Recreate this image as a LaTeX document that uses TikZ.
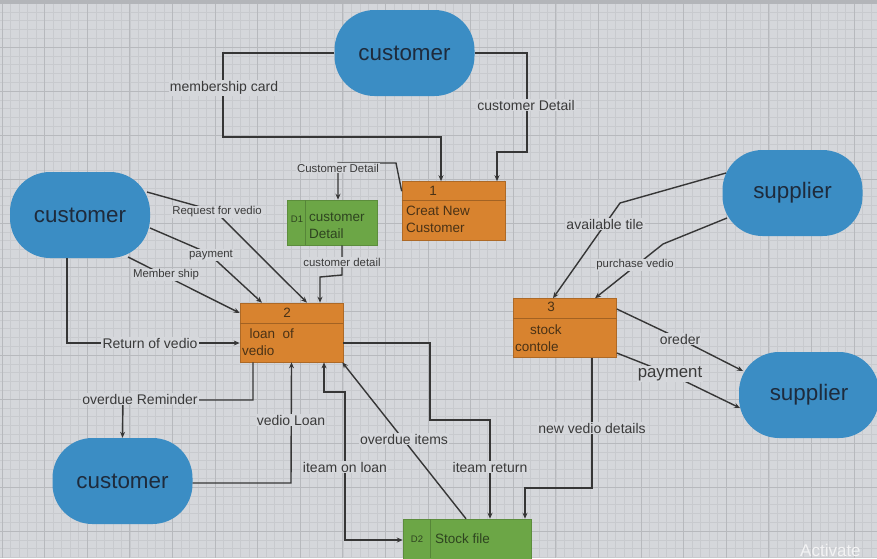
\documentclass[tikz,border=0pt]{standalone}
\usepackage{fontspec}
\setmainfont{Liberation Sans}
\usetikzlibrary{arrows.meta}
\definecolor{bg}{HTML}{D5D7DB}
\definecolor{gminor}{HTML}{C8CACE}
\definecolor{gmajor}{HTML}{B7B9BD}
\definecolor{topbar}{HTML}{B3B5B9}
\definecolor{entblue}{HTML}{3B8DC4}
\definecolor{procor}{HTML}{D8832F}
\definecolor{storegr}{HTML}{6CA646}
\definecolor{ln}{HTML}{363636}
\definecolor{enttext}{HTML}{1E2B3C}
\definecolor{labtext}{HTML}{3A3A3A}
\definecolor{boxtext}{HTML}{4A3216}
\definecolor{grtext}{HTML}{2E4420}
\begin{document}
\begin{tikzpicture}[x=1pt,y=-1pt,
  ent/.style={fill=entblue, rounded corners=40pt, minimum width=140pt, minimum height=86pt, inner sep=0pt, text=enttext, font=\fontsize{22.4}{26}\selectfont},
  proc/.style={fill=procor, draw=procor!80!black, line width=0.6pt, minimum width=103pt, minimum height=59pt, inner sep=0pt},
  store/.style={fill=storegr, draw=storegr!85!black, line width=0.5pt, inner sep=0pt},
  ptext/.style={text=boxtext, inner sep=0pt, font=\fontsize{13.5}{17}\selectfont, align=left},
  gtext/.style={text=grtext, inner sep=0pt, font=\fontsize{13.5}{17}\selectfont, align=left},
  lbl/.style={fill=bg, inner sep=1.2pt, text=labtext, font=\fontsize{14}{16}\selectfont},
  slbl/.style={fill=bg, inner sep=1pt, text=labtext, font=\fontsize{11.4}{13}\selectfont},
  flow/.style={draw=ln, line width=1.4pt},
  arr/.style={flow, -{Stealth[length=6pt,width=5pt]}},
  darr/.style={flow, {Stealth[length=6pt,width=5pt]}-{Stealth[length=6pt,width=5pt]}}
]
\useasboundingbox (0,0) rectangle (877,558);
% background grid
\fill[bg] (0,0) rectangle (877,558);
\foreach \i in {0,...,103} \draw[gminor, line width=0.4pt] ({2+\i*8.52},0) -- ++(0,558);
\foreach \j in {0,...,64} \draw[gminor, line width=0.4pt] (0,{3+\j*8.8}) -- ++(877,0);
\foreach \i in {0,...,20} \draw[gmajor, line width=0.8pt] ({2+\i*42.6},0) -- ++(0,558);
\foreach \j in {0,...,12} \draw[gmajor, line width=0.8pt] (0,{3+\j*44}) -- ++(877,0);
\fill[topbar] (0,0) rectangle (877,4);

% external entities
\node[ent] (cTop) at (404.5,53) {customer};
\node[ent] (cLeft) at (80,215) {customer};
\node[ent] (cBot) at (122.5,481) {customer};
\node[ent] (sTop) at (792.5,193) {supplier};
\node[ent] (sBot) at (809,395) {supplier};

% processes
\node[proc] (P1) at (453.5,211) {};
\draw[procor!75!black, line width=0.5pt] (P1.west |- 0,200) -- (P1.east |- 0,200);
\node[ptext] (P1n) at (433,191) {1};
\node[ptext, anchor=west] (P1t) at (406,219.5) {Creat New\\Customer};

\node[proc] (P2) at (291.5,332.5) {};
\draw[procor!75!black, line width=0.5pt] (P2.west |- 0,323) -- (P2.east |- 0,323);
\node[ptext] (P2n) at (287,313) {2};
\node[ptext, anchor=west] (P2t) at (242,342.5) {\ \ loan\ \ of\\vedio};

\node[proc] (P3) at (565,328) {};
\draw[procor!75!black, line width=0.5pt] (P3.west |- 0,318) -- (P3.east |- 0,318);
\node[ptext] (P3n) at (551,307) {3};
\node[ptext, anchor=west] (P3t) at (515,338) {\ \ \ \ stock\\contole};

% data stores
\node[store, minimum width=90pt, minimum height=45pt] (D1) at (332,222.5) {};
\draw[storegr!80!black, line width=0.5pt] (305,200) -- (305,245);
\node[gtext, font=\fontsize{9.5}{11}\selectfont] (D1n) at (297,219) {D1};
\node[gtext, anchor=west] (D1t) at (309,225.5) {customer\\Detail};

\node[store, minimum width=128pt, minimum height=50pt] (D2) at (467,544) {};
\draw[storegr!80!black, line width=0.5pt] (430,519) -- (430,558);
\node[gtext, font=\fontsize{9.5}{11}\selectfont] (D2n) at (417,539) {D2};
\node[gtext, anchor=west] (D2t) at (435,539) {Stock file};

% flows
\draw[arr] (cTop.west) -- (223,53) -- (223,137) -- (441,137) -- ([xshift=-12.5pt]P1.north);
\draw[arr] (cTop.east) -- (527,53) -- (527,152) -- (497,152) -- ([xshift=43.5pt]P1.north);
\draw[arr] ([yshift=-10pt]P1.north west) -- (396,163) -- (338,163) -- ([xshift=6pt]D1.north);
\draw[arr] ([xshift=10pt]D1.south) -- (342,275) -- (320,277) -- ([xshift=28.5pt]P2.north);

\draw[arr] ([xshift=67pt,yshift=23pt]cLeft.center) -- (215,211) -- ([xshift=15.5pt]P2.north);
\draw[arr] ([xshift=70pt,yshift=-13pt]cLeft.center) -- (208,253) -- ([xshift=-29.5pt]P2.north);
\draw[arr] ([xshift=48pt,yshift=-42pt]cLeft.center) -- ([yshift=19.5pt]P2.west);
\draw[arr] ([xshift=-13pt]cLeft.south) -- (67,343) -- ([yshift=-10.5pt]P2.west);

\draw[arr] ([xshift=-38.5pt]P2.south) -- (253,400) -- (123,400) -- (cBot.north);
\draw[arr] ([yshift=-2pt]cBot.east) -- (291,483) -- (P2.south);
\draw[darr] ([xshift=32.5pt]P2.south) -- (324,392) -- (345,392) -- (345,540) -- ([yshift=4pt]D2.west);
\draw[arr] ([xshift=-1pt]D2.north) -- ([xshift=-1pt]P2.south east);
\draw[arr] ([yshift=-10.5pt]P2.east) -- (430,343) -- (430,420) -- (490,420) -- ([xshift=23pt]D2.north);
\draw[arr] ([xshift=27pt]P3.south) -- (592,488) -- (525,488) -- ([xshift=58pt]D2.north);

\draw[arr] ([xshift=-66.5pt,yshift=20pt]sTop.center) -- (620,203) -- ([xshift=-12pt]P3.north);
\draw[arr] ([xshift=-65.5pt,yshift=-25pt]sTop.center) -- (663,244) -- ([xshift=30pt]P3.north);
\draw[arr] ([yshift=19pt]P3.east) -- (680,339) -- ([xshift=-66pt,yshift=24pt]sBot.center);
\draw[arr] ([yshift=-25pt]P3.east) -- (670,374) -- ([xshift=-69pt,yshift=-13pt]sBot.center);

% flow labels
\node[lbl] (l1) at (224,88) {membership card};
\node[lbl] (l2) at (526,105) {customer Detail};
\node[slbl] (l3) at (338,168) {Customer Detail};
\node[slbl] (l4) at (342,262) {customer detail};
\node[slbl] (l5) at (217,212) {Request for vedio};
\node[slbl] (l6) at (211,255) {payment};
\node[slbl] (l7) at (166,275) {Member ship};
\node[lbl] (l8) at (150,343) {Return of vedio};
\node[lbl] (l9) at (140,399) {overdue Reminder};
\node[lbl] (l10) at (291,420) {vedio Loan};
\node[lbl] (l11) at (345,467) {iteam on loan};
\node[lbl] (l12) at (404,439) {overdue items};
\node[lbl] (l13) at (490,467) {iteam return};
\node[lbl] (l14) at (592,428) {new vedio details};
\node[lbl] (l15) at (605,224) {available tile};
\node[slbl] (l16) at (635,265) {purchase vedio};
\node[lbl] (l17) at (680,339) {oreder};
\node[lbl, font=\fontsize{16.8}{19}\selectfont] (l18) at (670,374) {payment};

% watermark
\node[anchor=west, text=white!70!bg, inner sep=0pt, font=\fontsize{17}{19}\selectfont] (wm) at (800,550) {Activate};
\end{tikzpicture}
\end{document}
